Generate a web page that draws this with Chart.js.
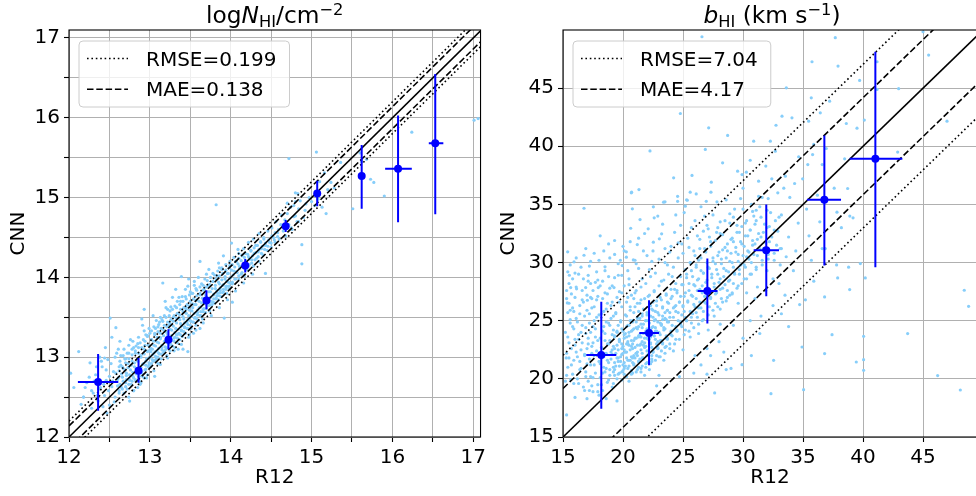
<!DOCTYPE html>
<html><head><meta charset="utf-8">
<script src="https://cdn.jsdelivr.net/npm/chart.js@4/dist/chart.umd.min.js"></script>
<style>
html,body{margin:0;padding:0;background:#fff;overflow:hidden;width:976px;height:496px;position:relative}
#w1{position:absolute;left:0;top:0;width:490px;height:496px}
#w2{position:absolute;left:490px;top:0;width:490px;height:496px}
canvas{display:block}
</style></head>
<body>
<div id="w1"><canvas id="c1" width="490" height="496"></canvas></div>
<div id="w2"><canvas id="c2" width="490" height="496"></canvas></div>
<script>
// ---------- DATA ----------
const nhiTitle = [['log','r'],['N','i'],['HI','sub'],['/cm','r'],['\u22122','sup']];
const bTitle = [['b','i'],['HI','sub'],[' (km s','r'],['\u22121','sup'],[')','r']];
const xLabel = 'R12';
const yLabel = 'CNN';

const nhiRMSE = 0.199, nhiMAE = 0.138;
const bRMSE = 7.04, bMAE = 4.17;

const nhiGridTicks = [12,12.5,13,13.5,14,14.5,15,15.5,16,16.5,17];
const nhiTickLabels = [12,13,14,15,16,17];
const bGridTicks = [15,20,25,30,35,40,45];
const bTickLabels = [15,20,25,30,35,40,45];

const nhiBinX  = [12.36,12.86,13.23,13.70,14.18,14.68,15.07,15.62,16.07,16.53];
const nhiBinY  = [12.69,12.83,13.22,13.71,14.15,14.64,15.05,15.27,15.36,15.68];
const nhiBinXLo= [12.11,12.82,13.19,13.66,14.14,14.64,15.03,15.58,15.91,16.45];
const nhiBinXHi= [12.61,12.90,13.27,13.74,14.22,14.72,15.11,15.66,16.24,16.63];
const nhiBinYLo= [12.33,12.68,13.10,13.60,14.06,14.57,14.89,14.86,14.69,14.79];
const nhiBinYHi= [13.04,12.99,13.35,13.84,14.23,14.72,15.21,15.66,16.03,16.55];

const bBinX  = [18.19,22.17,27.03,31.94,36.78,41.03];
const bBinY  = [22.06,23.95,27.56,31.06,35.40,38.92];
const bBinXLo= [16.94,21.36,26.22,30.89,35.33,38.89];
const bBinXHi= [19.44,23.00,27.88,33.00,38.17,43.28];
const bBinYLo= [17.44,21.16,24.75,27.10,29.74,29.60];
const bBinYHi= [26.64,26.76,30.34,35.00,40.93,48.13];

const nhiPoints = [
[12.02,12.80],[12.12,13.07],[12.06,12.62],[12.18,12.50],[12.22,12.68],[12.26,12.93],[12.15,12.41],[12.30,12.55],[12.33,12.78],[12.36,12.45],
[12.39,12.62],[12.41,12.88],[12.44,12.52],[12.46,12.71],[12.48,12.97],[12.50,12.40],[12.51,13.49],[12.53,12.63],[12.55,12.82],[12.57,12.50],
[12.58,13.37],[12.60,12.72],[12.62,12.58],[12.63,13.20],[12.64,12.90],[12.28,12.36],[12.42,12.38],[12.47,12.30],[12.56,12.44],[12.59,13.05],
[12.38,13.00],[12.45,13.12],[12.53,13.25],[12.61,13.10],[12.75,12.45],[12.79,13.20],[12.18,12.50],
[12.65,12.62],[12.66,12.75],[12.67,12.86],[12.68,12.55],[12.69,12.98],[12.70,12.68],[12.71,12.80],[12.72,12.60],[12.73,12.92],[12.74,13.15],
[12.75,12.72],[12.76,12.84],[12.77,12.66],[12.78,12.95],[12.80,12.74],[12.80,12.58],[12.81,12.88],[12.82,13.05],[12.83,12.70],[12.84,12.80],
[12.85,12.62],[12.85,12.95],[12.86,13.12],[12.87,12.76],[12.88,12.86],[12.89,12.68],[12.89,13.02],[12.90,12.80],[12.91,13.40],[12.92,12.92],
[12.93,13.33],[12.93,12.74],[12.94,13.15],[12.95,12.85],[12.96,12.98],[12.97,12.78],[12.98,13.08],[12.99,12.90],[12.93,13.60],[13.06,12.76],
[13.00,13.00],[13.01,12.88],[13.02,13.22],[13.03,13.10],[13.04,12.95],[13.05,13.05],[13.06,13.30],[13.07,13.14],[13.08,12.98],[13.09,13.08],
[13.10,13.38],[13.10,12.92],[13.11,13.18],[13.12,13.04],[13.13,13.25],[13.14,12.98],[13.15,13.12],[13.16,13.93],[13.16,13.45],[13.17,13.06],
[13.18,13.20],[13.19,13.32],[13.20,13.10],[13.21,13.02],[13.22,13.28],[13.23,13.16],[13.24,13.40],[13.25,13.08],[13.26,13.22],[13.27,13.34],
[13.28,13.14],[13.29,13.50],[13.30,13.24],[13.31,13.12],[13.32,13.36],[13.33,13.28],[13.34,13.18],[13.35,13.55],[13.36,13.30],[13.37,13.22],
[13.38,13.42],[13.39,13.34],[13.40,13.26],[13.41,13.10],[13.42,13.48],[13.43,13.38],[13.44,13.30],[13.45,13.62],[13.46,13.44],[13.47,13.07],
[13.47,13.36],[13.48,13.52],[13.49,13.28],[13.50,13.46],
[13.39,14.01],[13.47,13.89],[13.62,14.20],[13.73,14.10],[13.91,14.27],[14.01,14.43],[14.09,14.35],[13.55,13.95],[13.28,13.75],[13.20,13.62],
[13.34,13.70],[13.52,13.80],[13.60,14.00],[13.68,13.98],[13.44,13.85],
[13.51,13.36],[13.52,13.58],[13.53,13.44],[13.54,13.30],[13.55,13.66],[13.56,13.50],[13.57,13.40],[13.58,13.72],[13.59,13.56],[13.60,13.46],
[13.61,13.62],[13.62,13.78],[13.63,13.52],[13.64,13.68],[13.65,13.48],[13.66,13.60],[13.67,13.85],[13.68,13.70],[13.69,13.56],[13.70,13.76],
[13.71,13.64],[13.72,13.90],[13.73,13.72],[13.74,13.58],[13.75,13.82],[13.76,13.70],[13.77,13.66],[13.78,13.95],[13.79,13.78],[13.80,13.68],
[13.81,13.86],[13.82,13.74],[13.83,14.02],[13.84,13.80],[13.85,13.72],[13.86,13.92],[13.87,13.84],[13.88,13.76],[13.89,14.10],[13.90,13.90],
[13.91,13.82],[13.92,13.49],[13.93,13.98],[13.94,13.88],[13.95,13.80],[13.96,14.05],[13.97,13.94],[13.98,13.86],[13.99,14.15],[14.00,14.00],
[14.02,13.69],[14.02,13.92],[14.04,14.08],[14.05,13.98],[14.07,14.20],[14.08,14.06],[14.10,13.98],[14.11,14.14],[14.13,14.04],[14.14,14.28],
[14.16,14.12],[14.17,14.02],[14.19,14.20],[14.20,14.10],
[14.22,14.26],[14.23,14.16],[14.25,14.34],[14.26,14.22],[14.28,14.14],[14.29,14.30],[14.31,14.40],[14.32,14.24],[14.34,14.32],[14.35,14.20],
[14.37,14.45],[14.38,14.36],[14.40,14.28],[14.41,14.50],[14.43,14.05],[14.43,14.40],[14.45,14.34],[14.46,14.58],[14.48,14.44],[14.50,14.38],
[14.51,14.62],[14.53,14.50],[14.55,14.44],[14.56,14.70],[14.58,14.56],[14.60,14.48],[14.62,14.66],[14.63,14.78],[14.65,14.58],[14.67,14.72],
[14.68,14.52],[14.70,14.80],[14.72,14.66],[14.74,14.88],[14.76,14.60],[14.78,14.76],[14.80,14.95],[14.82,14.70],[14.84,14.86],[14.88,14.17],
[14.88,14.41],[14.72,15.49],
[14.80,15.06],[14.83,15.05],[14.70,14.93],[14.78,14.90],[14.86,14.96],[14.93,14.92],[15.00,14.95],[15.08,14.98],[15.13,14.88],[14.92,14.84],
[14.97,15.00],[15.04,14.90],[15.18,14.80],[15.16,15.31],[15.36,15.44],[15.51,14.86],[15.24,15.19],[14.80,14.77],[14.84,14.70],[14.75,14.62],
[14.90,14.75],[15.06,15.57],[15.20,15.10],[15.28,15.12],[15.73,15.23],[15.77,15.19],[15.68,15.48],[15.90,15.02],[16.24,15.82],[17.01,15.97],
[17.06,15.99],[13.82,14.91],[15.62,15.45],[15.60,15.56],[15.10,15.20],
[13.00,13.30],[13.05,13.38],[13.12,13.44],[13.18,13.52],[13.25,13.58],[13.31,13.64],[13.38,13.70],[13.44,13.76],[13.50,13.82],[13.57,13.86],
[12.95,13.28],[13.08,13.46],[13.22,13.60],[13.36,13.75],[12.80,13.12],[12.72,13.05],[12.68,13.10],[13.64,13.92],[13.78,14.05],[13.86,14.12]
];

const nhiPointsCore = [
[12.62,12.55],[12.63,12.66],[12.61,12.74],[12.62,12.83],[12.63,12.95],[12.66,12.60],[12.67,12.70],[12.65,12.79],[12.66,12.88],[12.67,13.02],
[12.70,12.63],[12.71,12.72],[12.69,12.84],[12.70,12.93],[12.71,12.77],[12.74,12.66],[12.75,12.78],[12.73,12.87],[12.74,12.98],[12.75,12.71],
[12.78,12.70],[12.79,12.81],[12.77,12.90],[12.78,13.03],[12.79,12.76],[12.82,12.72],[12.83,12.86],[12.81,12.93],[12.82,13.08],[12.83,12.79],
[12.86,12.76],[12.87,12.84],[12.85,12.97],[12.86,13.05],[12.87,12.70],[12.85,13.17],[12.90,12.82],[12.91,12.91],[12.89,13.00],[12.90,13.12],
[12.91,12.76],[12.89,12.87],[12.94,12.84],[12.95,12.95],[12.93,13.04],[12.94,13.20],[12.95,12.90],[12.93,13.10],[12.98,12.88],[12.99,12.99],
[12.97,13.07],[12.98,13.15],[12.99,12.93],[12.97,13.26],[13.02,12.92],[13.03,13.03],[13.01,13.11],[13.02,13.22],[13.03,12.97],[13.01,13.07],
[13.06,12.96],[13.07,13.07],[13.05,13.15],[13.06,13.28],[13.07,13.01],[13.05,13.20],[13.10,13.00],[13.11,13.11],[13.09,13.19],[13.10,13.32],
[13.11,13.05],[13.09,13.25],[13.14,13.04],[13.15,13.15],[13.13,13.23],[13.14,13.36],[13.15,13.09],[13.13,13.30],[13.18,13.08],[13.19,13.19],
[13.17,13.27],[13.18,13.40],[13.19,13.13],[13.17,13.34],[13.22,13.12],[13.23,13.23],[13.21,13.31],[13.22,13.44],[13.23,13.17],[13.21,13.38],
[13.26,13.16],[13.27,13.27],[13.25,13.35],[13.26,13.47],[13.27,13.21],[13.25,13.42],[13.30,13.20],[13.31,13.31],[13.29,13.39],[13.30,13.52],
[13.31,13.25],[13.29,13.45],[13.34,13.24],[13.35,13.35],[13.33,13.43],[13.34,13.55],[13.35,13.29],[13.33,13.49],[13.38,13.28],[13.39,13.39],
[13.37,13.47],[13.38,13.60],[13.39,13.33],[13.37,13.53],[13.42,13.32],[13.43,13.43],[13.41,13.51],[13.42,13.62],[13.43,13.37],[13.41,13.57],
[13.46,13.36],[13.47,13.47],[13.45,13.55],[13.46,13.66],[13.47,13.41],[13.45,13.60],[13.50,13.40],[13.51,13.51],[13.49,13.59],[13.50,13.70],
[13.51,13.45],[13.49,13.64],[13.54,13.44],[13.55,13.55],[13.53,13.62],[13.54,13.73],[13.55,13.49],[13.53,13.67],[13.58,13.48],[13.59,13.59],
[13.57,13.66],[13.58,13.77],[13.59,13.53],[13.57,13.71],[13.62,13.52],[13.63,13.63],[13.61,13.70],[13.62,13.80],[13.63,13.57],[13.66,13.57],
[13.67,13.67],[13.65,13.74],[13.66,13.84],[13.67,13.61],[13.70,13.61],[13.71,13.71],[13.69,13.78],[13.70,13.88],[13.71,13.65],[13.74,13.65],
[13.75,13.75],[13.73,13.82],[13.74,13.91],[13.75,13.69],[13.78,13.69],[13.79,13.79],[13.77,13.86],[13.78,13.95],[13.79,13.73],[13.82,13.73],
[13.83,13.83],[13.81,13.90],[13.82,13.98],[13.83,13.77],[13.86,13.77],[13.87,13.87],[13.85,13.94],[13.86,14.02],[13.87,13.81],[13.90,13.81],
[13.91,13.91],[13.89,13.97],[13.90,14.05],[13.91,13.85],[13.94,13.85],[13.95,13.95],[13.93,14.01],[13.94,14.09],[13.95,13.89],[13.98,13.89],
[13.99,13.99],[13.97,14.05],[13.98,14.12],[13.99,13.93],[14.02,13.94],[14.03,14.03],[14.01,14.09],[14.02,14.16],[14.06,13.98],[14.07,14.07],
[14.05,14.13],[14.06,14.20],[14.10,14.02],[14.11,14.11],[14.09,14.17],[14.10,14.24],[14.14,14.06],[14.15,14.15],[14.13,14.21],[14.14,14.27],
[14.18,14.10],[14.19,14.19],[14.17,14.25],[14.18,14.30],[14.22,14.14],[14.23,14.23],[14.21,14.29],[14.26,14.18],[14.27,14.27],[14.25,14.33],
[14.30,14.22],[14.31,14.31],[14.29,14.37],[14.34,14.26],[14.35,14.35],[14.33,14.40],[14.38,14.30],[14.39,14.39],[14.37,14.44],[14.42,14.35],
[14.43,14.43],[14.41,14.48],[14.46,14.39],[14.47,14.47],[14.50,14.43],[14.51,14.52],[14.54,14.47],[14.55,14.56],[14.58,14.51],[14.59,14.60]
];

const nhiPointsEdge = [
[12.70,12.98],[12.74,13.05],[12.78,13.10],[12.83,13.14],[12.88,13.18],[12.92,13.22],[12.97,13.27],[13.02,13.33],[13.07,13.36],[13.11,13.41],
[13.15,13.47],[13.20,13.50],[13.24,13.52],[13.28,13.60],[13.33,13.62],[13.37,13.66],[13.41,13.70],[13.45,13.73],[13.49,13.78],[13.53,13.80],
[13.58,13.84],[13.62,13.88],[13.66,13.90],[13.71,13.96],[13.75,14.00],[13.80,14.03],[13.84,14.08],[13.89,14.12],[13.94,14.16],[13.99,14.20],
[14.04,14.25],[14.10,14.30],[14.16,14.36],[14.22,14.44],[14.28,14.48],[14.35,14.55],[12.86,13.25],[12.99,13.36],[13.13,13.50],[13.26,13.63],
[13.40,13.76],[13.55,13.90],[13.70,14.04],[13.85,14.18],[12.76,13.22],[12.90,13.48],[13.04,13.52],[13.19,13.70],[13.48,13.98],[13.32,13.85],
[12.80,12.58],[12.88,12.66],[12.96,12.74],[13.05,12.83],[13.13,12.91],[13.22,12.99],[13.30,13.08],[13.39,13.16],[13.48,13.25],[13.57,13.34],
[13.66,13.43],[13.76,13.52],[13.86,13.62],[13.96,13.72],[14.06,13.83],[14.16,13.93],[14.27,14.04],[12.74,12.50],[13.35,13.10],[13.62,13.36],
[12.20,12.62],[12.25,12.75],[12.31,12.70],[12.34,12.88],[12.37,12.60],[12.40,12.95],[12.43,12.66],[12.46,12.84],[12.49,12.58],[12.52,12.92],
[12.54,12.70],[12.57,13.00],[12.60,12.64],[12.62,12.88],[12.64,13.02],[12.58,12.80],[12.50,12.76],[12.44,12.99],[12.35,12.52],[12.28,12.58]
];

const bPoints = [
[15.3,16.9],[15.2,19.8],[15.4,21.0],[15.3,22.2],[15.5,23.1],[15.2,24.0],[15.6,24.8],[15.4,25.7],[15.5,26.5],[15.3,27.6],
[15.53,28.91],[15.39,30.92],[15.8,20.4],[15.9,21.6],[15.7,22.6],[16.0,23.4],[15.9,24.3],[16.1,25.2],[15.8,26.1],[16.13,27.74],
[16.0,18.4],[16.3,19.6],[16.4,20.8],[16.2,21.9],[16.5,22.5],[16.3,23.8],[16.6,24.6],[16.4,25.6],[16.7,26.6],[16.89,27.85],
[16.75,30.63],[15.92,30.06],[15.64,27.85],[16.8,19.0],[16.9,20.2],[17.0,21.3],[16.8,22.1],[17.1,23.0],[16.9,23.9],[17.2,24.8],
[17.0,25.9],[17.3,27.0],[17.1,28.4],[17.0,18.3],[17.4,19.4],[16.75,34.67],[15.64,19.93],[15.36,26.53],[17.03,26.76],[15.27,21.8],
[17.2,19.0],[17.5,20.1],[17.3,21.2],[17.6,22.0],[17.4,22.8],[17.7,23.6],[17.5,24.5],[17.8,25.3],[17.6,26.2],[17.9,27.1],
[17.7,28.3],[17.94,27.85],[18.1,32.3],[18.0,18.6],[18.2,19.5],[18.3,20.5],[18.1,21.3],[18.4,21.9],[18.2,22.7],[18.5,23.3],
[18.3,24.1],[18.6,24.9],[18.4,25.8],[18.7,26.5],[18.5,27.4],[18.5,29.63],[18.8,19.9],[18.9,20.8],[18.7,21.6],[19.0,22.3],
[18.8,23.0],[19.1,23.8],[18.9,24.6],[19.2,25.4],[19.0,26.3],[19.25,27.85],[19.3,20.3],[19.5,18.1],[19.4,21.1],[19.6,21.8],
[19.3,22.6],[19.7,23.3],[19.5,24.1],[19.8,24.9],[19.4,25.7],[19.7,26.6],[19.61,28.91],[19.9,27.4],[19.78,30.2],[19.94,29.74],
[19.9,20.6],[19.8,21.5],[20.0,22.2],[19.9,23.0],[17.8,29.2],[18.3,28.4],[19.1,28.0],[17.4,26.9],[18.6,20.9],[19.2,19.6],
[17.9,18.9],[18.6,18.3],
[20.1,20.4],[20.2,21.1],[20.3,21.8],[20.1,22.5],[20.4,23.2],[20.2,23.9],[20.5,24.6],[20.3,25.4],[20.6,26.2],[20.4,27.0],
[20.5,28.1],[20.28,30.92],[20.28,30.46],[20.64,32.95],[20.72,36.05],[20.78,34.62],[20.86,30.23],[20.7,20.7],[20.8,21.4],[20.9,22.0],
[20.7,22.8],[21.0,23.5],[20.8,24.2],[21.1,24.9],[20.9,25.7],[21.2,26.5],[21.0,27.4],[21.19,31.55],[21.33,36.28],[21.42,33.7],
[21.3,21.0],[21.4,21.7],[21.2,22.3],[21.5,23.0],[21.3,23.7],[21.6,24.4],[21.4,25.2],[21.7,26.0],[21.5,26.8],[21.6,28.6],
[21.8,20.3],[21.9,21.3],[22.0,22.0],[21.8,22.7],[22.1,23.4],[21.9,24.1],[22.2,24.8],[22.0,25.5],[22.3,26.3],[22.1,27.1],
[22.2,29.4],[22.25,39.6],[22.53,31.75],[22.53,34.79],[22.6,33.85],[22.4,21.5],[22.5,22.3],[22.3,23.0],[22.6,23.7],[22.4,24.4],
[22.7,25.1],[22.5,25.9],[22.8,26.7],[22.6,27.6],[22.8,19.4],[23.0,21.9],[22.9,22.6],[23.1,23.3],[22.9,24.0],[23.2,24.7],
[23.0,25.5],[23.3,26.2],[23.1,27.0],[23.2,28.4],[23.03,32.04],[23.22,32.47],[23.38,35.19],[23.5,35.22],[23.5,22.7],[23.6,23.5],
[23.4,24.2],[23.7,24.9],[23.5,25.7],[23.8,26.5],[23.6,27.3],[23.7,29.8],[23.9,23.0],[24.0,23.8],[24.1,24.6],[23.9,25.3],
[24.2,26.1],[24.0,26.9],[24.3,27.7],[24.1,28.8],[24.22,37.29],[24.4,23.4],[24.5,24.2],[24.6,25.0],[24.4,25.8],[24.7,26.6],
[24.5,27.4],[24.6,30.4],[24.55,35.7],[24.55,35.27],[24.78,42.82],[24.8,24.7],[24.9,25.5],[25.0,26.3],[24.8,27.1],[25.0,28.1],
[24.9,31.6],[20.4,29.3],[21.1,29.9],[22.0,30.6],[23.5,31.2],[24.3,32.6],[21.8,32.5],[22.9,34.0],[20.9,26.9],[21.5,20.6],
[22.2,20.8],[23.4,21.6],[24.2,22.4],[20.5,19.8],[23.0,20.3],
[20.6,21.6],[21.1,22.2],[21.7,22.9],[22.3,23.6],[20.8,23.0],[21.4,23.8],[22.0,24.3],[22.6,25.0],[21.2,24.3],[21.9,25.0],
[22.4,22.0],[20.5,22.9],[21.6,21.8],[22.7,24.1],[23.3,25.1],[21.0,21.8],[20.3,23.6],[22.9,23.2],[21.8,23.5],[22.5,26.6],
[20.6,25.0],[21.3,25.8],[23.7,25.9],[24.4,26.3],
[25.2,24.2],[25.3,25.0],[25.1,25.8],[25.4,26.6],[25.2,27.4],[25.5,28.2],[25.3,29.0],[25.6,30.0],[25.19,34.85],[25.36,35.36],
[25.6,36.05],[25.75,37.49],[25.7,24.8],[25.8,25.6],[25.9,26.4],[25.7,27.2],[26.0,28.0],[25.8,28.8],[26.1,29.6],[25.9,31.0],
[26.1,35.9],[26.2,25.3],[26.3,26.1],[26.1,26.9],[26.4,27.7],[26.2,28.5],[26.5,29.3],[26.3,30.2],[26.4,32.0],[26.58,49.42],
[26.86,39.73],[26.94,35.27],[26.6,25.0],[26.7,25.8],[26.8,26.6],[26.6,27.4],[26.9,28.3],[26.7,29.1],[27.0,30.0],[26.8,31.2],
[27.14,41.59],[27.33,36.05],[27.36,36.91],[27.1,24.2],[27.2,26.2],[27.3,27.0],[27.1,27.8],[27.4,28.7],[27.2,29.5],[27.5,30.4],
[27.3,31.8],[27.64,18.79],[27.83,35.22],[27.6,25.4],[27.7,26.5],[27.8,27.4],[27.6,28.2],[27.9,29.0],[27.7,29.9],[28.0,30.9],
[27.9,33.0],[28.1,26.0],[28.2,26.9],[28.3,27.8],[28.1,28.6],[28.4,29.5],[28.2,30.3],[28.5,31.3],[28.3,32.4],[28.3,38.58],
[28.72,40.93],[28.6,20.8],[28.6,26.7],[28.7,27.6],[28.8,28.4],[28.6,29.3],[28.9,30.1],[28.7,31.0],[29.0,32.0],[28.9,34.2],
[29.0,20.9],[29.1,27.3],[29.2,28.2],[29.3,29.1],[29.1,30.0],[29.4,30.9],[29.2,31.8],[29.5,33.2],[29.55,37.86],[29.92,37.57],
[29.6,28.0],[29.7,29.0],[29.8,29.8],[29.6,30.7],[29.9,31.6],[29.7,32.6],[29.92,21.22],[29.8,35.5],[25.6,23.6],[26.3,23.9],
[27.0,22.6],[25.0,22.5],[26.0,22.0],[28.1,24.7],
[30.1,28.6],[30.2,29.6],[30.3,30.5],[30.1,31.4],[30.4,32.3],[30.2,33.4],[30.28,37.77],[30.89,40.44],[30.0,36.4],[30.6,29.0],
[30.7,30.0],[30.5,30.9],[30.8,31.9],[30.6,32.8],[30.9,34.0],[30.7,35.0],[31.1,29.6],[31.2,30.6],[31.0,31.6],[31.3,32.5],
[31.1,33.6],[31.4,34.8],[31.2,27.9],[31.6,30.2],[31.7,31.2],[31.5,32.2],[31.8,33.3],[31.6,35.6],[32.0,29.3],[32.1,30.7],
[32.2,31.8],[32.0,33.0],[32.3,34.3],[32.28,40.44],[32.69,39.58],[32.75,41.81],[32.33,18.73],[32.55,21.59],[32.5,28.6],[32.6,30.2],
[32.8,31.5],[32.6,32.8],[32.9,36.0],[33.0,28.2],[33.1,29.8],[33.2,31.2],[33.0,33.9],[33.25,42.59],[33.61,45.03],[33.6,30.5],
[33.5,27.2],[33.8,32.2],[33.9,35.6],[34.08,42.45],[34.2,29.3],[34.4,31.0],[34.6,33.4],[34.72,26.39],[34.92,22.74],[35.05,19.07],
[34.64,39.1],[34.97,37.2],[33.53,37.43],[33.4,36.4],[34.3,36.8],[32.4,37.2],[31.9,38.3],[31.3,37.0],[30.6,38.8],
[35.4,38.43],[35.47,42.16],[35.69,44.17],[35.75,47.27],[35.8,39.29],[35.89,40.16],[35.3,34.6],[35.5,32.3],[35.7,30.2],[35.9,28.4],
[35.2,26.8],[36.44,42.88],[36.6,38.43],[36.2,35.8],[36.4,33.5],[36.6,31.2],[36.8,27.05],[36.8,22.17],[36.86,31.2],[36.94,39.81],
[37.22,43.88],[37.42,23.8],[37.69,49.34],[37.92,46.9],[37.83,34.33],[37.89,28.68],[37.6,36.4],[37.8,29.8],[38.47,38.92],[38.61,41.96],
[38.72,36.37],[38.8,29.6],[38.89,27.68],[38.2,33.0],[38.9,34.0],[39.17,33.85],[39.44,21.45],[39.5,41.56],[39.72,45.66],[39.78,29.91],
[40.05,21.65],[40.05,20.73],[40.05,23.66],[40.11,42.25],[40.19,28.68],[41.17,47.27],[41.17,44.89],[42.89,39.5],[42.97,44.95],[43.72,23.89],
[45.0,49.85],[45.47,47.84],[46.22,20.28],[47.0,42.16],[48.11,19.04],[48.44,27.62],[48.8,26.24],
[24.0,31.4],[24.8,33.2],[25.4,32.1],[26.0,33.6],[26.7,32.7],[27.5,34.1],[28.1,33.5],[28.6,35.4],[29.3,34.6],[25.1,34.3],
[26.5,34.8],[27.0,33.2],[23.0,30.3],[22.5,31.0],[21.0,30.2],[20.0,31.4],[19.3,30.7],[18.8,31.6],[17.3,30.1],[16.3,29.0],
[15.6,29.8],[20.69,36.0],[25.3,35.4],
[28.9,27.2],[29.6,26.5],[30.3,27.4],[31.0,26.9],[31.9,27.6],[31.5,25.4],[30.6,25.0],[29.2,24.6],[32.5,26.3],[33.2,25.6],
[30.0,23.5],[28.0,23.2],[27.3,22.0],[26.5,21.2],[31.4,23.9],[33.8,24.5],[28.4,22.3],[25.9,20.5],[27.0,20.4],[24.7,20.2],[30.7,22.0],
[15.4,29.2],[15.8,28.6],[16.1,30.4],[16.5,29.6],[16.9,31.2],[17.2,29.7],[17.6,30.8],[18.0,30.2],[18.4,31.0],[18.9,30.4],
[19.3,31.9],[19.6,29.9],[20.1,31.0],[20.6,31.8],[21.3,32.1],[21.7,31.0],[22.1,32.9],[15.6,25.9],[16.0,27.0],[16.6,27.6],
[17.3,28.2],[18.8,28.8],[19.9,28.9],[22.4,30.1],[23.9,30.9],[24.6,31.7],[25.5,31.3],[26.2,32.3],[27.1,32.9],[27.8,32.6],
[28.5,33.6],[29.2,33.9],[30.0,34.6],[30.8,34.4],[31.3,35.7],[32.1,35.5],[23.3,33.3],[24.4,34.1],[25.7,33.0],[26.8,34.0]
];

const bPointsCore = [
[15.3,20.3],[15.5,21.8],[15.4,23.6],[15.6,25.1],[15.3,26.9],[15.5,28.2],[15.9,19.6],[15.7,21.2],[16.0,22.9],[15.8,24.5],
[15.9,25.8],[15.7,27.3],[16.0,29.1],[16.2,20.0],[16.4,21.5],[16.1,22.3],[16.3,23.4],[16.2,24.9],[16.4,26.3],[16.1,27.9],
[16.7,19.3],[16.5,20.9],[16.8,22.0],[16.6,23.1],[16.5,24.0],[16.8,25.4],[16.6,26.8],[16.7,28.6],[17.1,19.8],[16.9,20.6],
[17.2,21.7],[17.0,22.6],[17.1,23.5],[16.9,24.4],[17.2,25.6],[17.0,27.2],[17.1,28.9],[17.5,18.9],[17.3,20.2],[17.6,21.2],
[17.4,22.2],[17.5,23.1],[17.3,24.0],[17.6,25.0],[17.4,26.1],[17.5,27.6],[17.9,19.5],[17.7,20.5],[18.0,21.5],[17.8,22.4],
[17.9,23.3],[17.7,24.3],[18.0,25.5],[17.8,26.8],[17.9,28.5],[18.3,19.0],[18.1,20.1],[18.4,21.0],[18.2,21.8],[18.3,22.6],
[18.1,23.5],[18.4,24.5],[18.2,25.6],[18.3,26.9],[18.1,28.0],[18.7,19.7],[18.5,20.6],[18.8,21.4],[18.6,22.2],[18.7,23.0],
[18.5,23.9],[18.8,24.8],[18.6,26.0],[18.7,27.3],[18.5,29.3],[19.1,19.3],[18.9,20.3],[19.2,21.0],[19.0,21.7],[19.1,22.5],
[18.9,23.3],[19.2,24.2],[19.0,25.2],[19.1,26.6],[18.9,27.8],[19.5,20.0],[19.3,20.8],[19.6,21.5],[19.4,22.2],[19.5,22.9],
[19.3,23.7],[19.6,24.6],[19.4,25.6],[19.5,27.0],[19.3,28.7],[19.9,19.9],[19.7,20.5],[20.0,21.2],[19.8,21.9],[19.9,22.6],
[19.7,23.4],[20.0,24.1],[19.8,25.0],[19.9,26.2],[19.7,27.5],[20.3,20.2],[20.1,20.9],[20.4,21.6],[20.2,22.3],[20.3,23.0],
[20.1,23.8],[20.4,24.6],[20.2,25.5],[20.3,26.6],[20.1,28.0],[20.7,20.4],[20.5,21.1],[20.8,21.8],[20.6,22.5],[20.7,23.3],
[20.5,24.0],[20.8,24.9],[20.6,25.9],[20.7,27.2],[20.5,28.6],[21.1,20.6],[20.9,21.3],[21.2,22.0],[21.0,22.7],[21.1,23.5],
[20.9,24.3],[21.2,25.2],[21.0,26.2],[21.1,27.6],[21.5,20.9],[21.3,21.5],[21.6,22.2],[21.4,22.9],[21.5,23.6],[21.3,24.5],
[21.6,25.4],[21.4,26.5],[21.5,27.9],[21.3,29.5],[21.9,21.0],[21.7,21.7],[22.0,22.4],[21.8,23.1],[21.9,23.9],[21.7,24.7],
[22.0,25.7],[21.8,26.9],[21.9,28.2],[22.3,21.3],[22.1,22.0],[22.4,22.7],[22.2,23.4],[22.3,24.2],[22.1,25.0],[22.4,26.0],
[22.2,27.2],[22.3,28.8],[22.7,21.6],[22.5,22.3],[22.8,23.0],[22.6,23.7],[22.7,24.4],[22.5,25.3],[22.8,26.3],[22.6,27.5],
[22.7,29.1],[23.1,21.9],[22.9,22.6],[23.2,23.3],[23.0,24.0],[23.1,24.8],[22.9,25.7],[23.2,26.8],[23.0,28.0],[23.5,22.2],
[23.3,23.0],[23.6,23.7],[23.4,24.4],[23.5,25.2],[23.3,26.1],[23.6,27.2],[23.4,28.5],[23.5,30.0],[23.9,22.6],[23.7,23.4],
[24.0,24.1],[23.8,24.9],[23.9,25.7],[23.7,26.6],[24.0,27.7],[23.8,29.0],[24.3,23.0],[24.1,23.7],[24.4,24.5],[24.2,25.3],
[24.3,26.2],[24.1,27.1],[24.4,28.2],[24.2,29.6],[24.7,23.4],[24.5,24.1],[24.8,24.9],[24.6,25.7],[24.7,26.6],[24.5,27.6],
[24.8,28.8],[25.1,23.8],[24.9,24.5],[25.2,25.3],[25.0,26.2],[25.1,27.1],[24.9,28.1],[25.2,29.4],[25.0,30.8],[25.5,24.1],
[25.3,25.0],[25.6,25.8],[25.4,26.7],[25.5,27.6],[25.3,28.7],[25.6,30.0],[25.9,24.4],[25.7,25.3],[26.0,26.2],[25.8,27.1],
[25.9,28.1],[25.7,29.3],[26.0,30.6],[26.3,24.7],[26.1,25.7],[26.4,26.6],[26.2,27.6],[26.3,28.6],[26.1,29.8],[26.4,31.2],
[26.7,25.1],[26.5,26.1],[26.8,27.1],[26.6,28.0],[26.7,29.1],[26.5,30.4],[27.1,25.5],[26.9,26.5],[27.2,27.5],[27.0,28.5],
[27.1,29.6],[26.9,30.9],[27.2,32.2],[27.5,25.9],[27.3,26.9],[27.6,27.9],[27.4,29.0],[27.5,30.1],[27.3,31.4],[27.9,26.2],
[27.7,27.3],[28.0,28.3],[27.8,29.4],[27.9,30.6],[27.7,31.9],[28.3,26.6],[28.1,27.7],[28.4,28.8],[28.2,29.9],[28.3,31.1],
[28.1,32.5],[28.7,27.0],[28.5,28.1],[28.8,29.2],[28.6,30.4],[28.7,31.6],[29.1,27.4],[28.9,28.5],[29.2,29.6],[29.0,30.8],
[29.1,32.1],[28.9,33.4],[29.5,27.8],[29.3,29.0],[29.6,30.1],[29.4,31.3],[29.5,32.6],[29.9,28.2],[29.7,29.4],[30.0,30.6],
[29.8,31.8],[29.9,33.1],[30.3,28.6],[30.1,29.8],[30.4,31.0],[30.2,32.3],[30.3,33.6],[30.7,29.0],[30.5,30.3],[30.8,31.5],
[30.6,32.8],[31.1,29.4],[30.9,30.7],[31.2,32.0],[31.0,33.3],[31.1,34.5],[31.6,29.8],[31.4,31.2],[31.7,32.6],[31.5,33.9],
[32.1,30.3],[31.9,31.7],[32.2,33.1],[32.0,34.5],[32.6,30.8],[32.4,32.2],[32.7,33.6],[33.1,31.2],[32.9,32.7],[33.2,34.1],
[19.2,20.6],[19.3,21.4],[19.1,22.1],[19.2,22.8],[19.3,23.6],[19.6,20.4],[19.7,21.1],[19.5,21.8],[19.6,22.5],[19.7,23.2],
[19.5,24.0],[20.0,20.7],[20.1,21.4],[19.9,22.1],[20.0,22.8],[20.1,23.5],[19.9,24.3],[20.4,20.9],[20.5,21.6],[20.3,22.3],
[20.4,23.0],[20.5,23.7],[20.3,24.5],[20.8,20.5],[20.9,21.2],[20.7,21.9],[20.8,22.6],[20.9,23.3],[20.7,24.1],[20.8,25.0],
[21.2,20.8],[21.3,21.5],[21.1,22.2],[21.2,22.9],[21.3,23.6],[21.1,24.4],[21.2,25.3],[21.6,21.1],[21.7,21.8],[21.5,22.5],
[21.6,23.2],[21.7,23.9],[21.5,24.7],[21.6,25.6],[22.0,21.4],[22.1,22.1],[21.9,22.8],[22.0,23.5],[22.1,24.2],[21.9,25.0],
[22.4,21.7],[22.5,22.4],[22.3,23.1],[22.4,23.8],[22.5,24.5],[22.3,25.4],[22.8,22.0],[22.9,22.7],[22.7,23.4],[22.8,24.1],
[22.9,24.9],[22.7,25.8],[23.2,22.4],[23.3,23.1],[23.1,23.8],[23.2,24.6],[23.3,25.4],[23.6,22.8],[23.7,23.5],[23.5,24.3],
[23.6,25.1],[23.7,25.9]
];

// ---------- HELPERS ----------
const FONT = '"DejaVu Sans", "Liberation Sans", sans-serif';
const FS = 20;
Chart.defaults.font.family = FONT;
Chart.defaults.font.size = FS;
Chart.defaults.color = '#000';

const errorBarPlugin = {
  id: 'errorBars',
  beforeDatasetDraw(chart, args) {
    const ds = chart.data.datasets[args.index];
    if (!ds.errorBars) return;
    const {ctx, chartArea: a, scales: {x, y}} = chart;
    const e = ds.errorBars;
    ctx.save();
    ctx.beginPath(); ctx.rect(a.left, a.top, a.right - a.left, a.bottom - a.top); ctx.clip();
    ctx.strokeStyle = ds.backgroundColor; ctx.lineWidth = 2;
    ds.data.forEach((p, i) => {
      const px = x.getPixelForValue(p.x), py = y.getPixelForValue(p.y);
      ctx.beginPath();
      ctx.moveTo(x.getPixelForValue(e.xLo[i]), py); ctx.lineTo(x.getPixelForValue(e.xHi[i]), py);
      ctx.moveTo(px, y.getPixelForValue(e.yLo[i])); ctx.lineTo(px, y.getPixelForValue(e.yHi[i]));
      ctx.stroke();
    });
    ctx.restore();
  }
};

const framePlugin = {
  id: 'frame',
  afterDatasetsDraw(chart) {
    const {ctx, chartArea: a} = chart;
    ctx.save(); ctx.strokeStyle = '#000'; ctx.lineWidth = 1.1;
    ctx.strokeRect(a.left, a.top, a.right - a.left, a.bottom - a.top);
    ctx.restore();
  }
};

const richTitlePlugin = {
  id: 'richTitle',
  afterDraw(chart, args, opts) {
    const {ctx, chartArea: a} = chart;
    const big = 23.3, small = 16.3;
    const parts = opts.parts.map(([t, k]) => {
      let font, dy = 0;
      if (k === 'r') font = big + 'px ' + FONT;
      else if (k === 'i') font = 'italic ' + big + 'px ' + FONT;
      else if (k === 'sub') { font = small + 'px ' + FONT; dy = 4; }
      else { font = small + 'px ' + FONT; dy = -8; }
      return {t, font, dy};
    });
    ctx.save(); ctx.fillStyle = '#000'; ctx.textBaseline = 'alphabetic'; ctx.textAlign = 'left';
    let total = 0;
    parts.forEach(p => { ctx.font = p.font; p.w = ctx.measureText(p.t).width; total += p.w; });
    let x = (a.left + a.right) / 2 + (opts.shift || 0) - total / 2;
    const base = 23.3;
    parts.forEach(p => { ctx.font = p.font; ctx.fillText(p.t, x, base + p.dy); x += p.w; });
    ctx.restore();
  }
};

const legendPlugin = {
  id: 'boxLegend',
  afterDraw(chart, args, opts) {
    const {ctx, chartArea: a} = chart;
    ctx.save();
    ctx.font = FS + 'px ' + FONT;
    let tw = 0; opts.entries.forEach(e => tw = Math.max(tw, ctx.measureText(e.label).width));
    const bx = a.left + 10, by = a.top + 11, bw = 67 + tw + 13, bh = 66;
    const r = 4;
    ctx.beginPath();
    ctx.moveTo(bx + r, by); ctx.lineTo(bx + bw - r, by); ctx.arcTo(bx + bw, by, bx + bw, by + r, r);
    ctx.lineTo(bx + bw, by + bh - r); ctx.arcTo(bx + bw, by + bh, bx + bw - r, by + bh, r);
    ctx.lineTo(bx + r, by + bh); ctx.arcTo(bx, by + bh, bx, by + bh - r, r);
    ctx.lineTo(bx, by + r); ctx.arcTo(bx, by, bx + r, by, r); ctx.closePath();
    ctx.fillStyle = 'rgba(255,255,255,0.8)'; ctx.fill();
    ctx.strokeStyle = '#cccccc'; ctx.lineWidth = 1; ctx.stroke();
    opts.entries.forEach((e, i) => {
      const ly = by + 17.5 + i * 30.8;
      ctx.beginPath(); ctx.setLineDash(e.dash); ctx.strokeStyle = '#000'; ctx.lineWidth = 1.6;
      ctx.moveTo(bx + 8, ly); ctx.lineTo(bx + 49, ly); ctx.stroke();
      ctx.setLineDash([]);
      ctx.fillStyle = '#000'; ctx.textBaseline = 'alphabetic';
      ctx.fillText(e.label, bx + 67, ly + 7);
    });
    ctx.restore();
  }
};

const DASH = [6.5, 2.8], DOT = [1.6, 2.8];

function refLines(xmin, xmax, mae, rmse) {
  const offs = [[0, []], [mae, DASH], [-mae, DASH], [rmse, DOT], [-rmse, DOT]];
  return offs.map(([c, dash]) => ({
    type: 'line', data: [{x: xmin, y: xmin + c}, {x: xmax, y: xmax + c}],
    borderColor: '#000', borderWidth: 1.6, borderDash: dash, pointRadius: 0, fill: false, order: 1
  }));
}

function makeChart(id, cfg) {
  const gTicks = cfg.gridTicks, labels = cfg.tickLabels;
  const axis = (isX) => ({
    type: 'linear',
    min: cfg.min, max: isX ? cfg.xmax : cfg.ymax,
    afterBuildTicks: s => { s.ticks = gTicks.map(v => ({value: v})); },
    afterFit: s => { if (isX) s.height = 59; else s.width = cfg.yAxisW; },
    ticks: {
      autoSkip: false, maxRotation: 0, padding: 4, color: '#000',
      font: {size: FS, family: FONT},
      callback: v => labels.includes(v) ? String(v) : ''
    },
    grid: {color: '#b0b0b0', lineWidth: 1, drawTicks: true, tickLength: 5, tickColor: '#000', tickWidth: 1.1},
    border: {display: false},
    title: {display: true, text: isX ? xLabel : yLabel, color: '#000',
      font: {size: FS, family: FONT}, padding: isX ? {top: 0, bottom: 6.3} : {top: 6.8, bottom: 0}}
  });
  const pts = cfg.points.map(p => ({x: p[0], y: p[1]}));
  return new Chart(document.getElementById(id), {
    data: {datasets: [
      {type: 'scatter', data: cfg.binX.map((v, i) => ({x: v, y: cfg.binY[i]})),
       backgroundColor: '#0000ff', borderWidth: 0, pointRadius: 4, order: 0,
       errorBars: {xLo: cfg.xLo, xHi: cfg.xHi, yLo: cfg.yLo, yHi: cfg.yHi}},
      ...refLines(cfg.min, cfg.xmax, cfg.mae, cfg.rmse),
      {type: 'scatter', data: pts,
       backgroundColor: '#87cefa', borderWidth: 0, pointRadius: 1.6, order: 2}
    ]},
    options: {
      responsive: false, animation: false, events: [], devicePixelRatio: 1,
      layout: {autoPadding: false, padding: {top: 30, left: 0, right: cfg.padRight, bottom: 0}},
      scales: {x: {...axis(true), position: 'bottom'}, y: {...axis(false), position: 'left'}},
      plugins: {
        legend: {display: false}, tooltip: {enabled: false},
        richTitle: {parts: cfg.title, shift: cfg.titleShift || 0},
        boxLegend: {entries: [{label: 'RMSE=' + cfg.rmse, dash: DOT}, {label: 'MAE=' + cfg.mae, dash: DASH}]}
      }
    },
    plugins: [errorBarPlugin, framePlugin, richTitlePlugin, legendPlugin]
  });
}

makeChart('c1', {
  min: 12, xmax: 17.09, ymax: 17.1, yAxisW: 69, padRight: 1,
  gridTicks: nhiGridTicks, tickLabels: nhiTickLabels,
  binX: nhiBinX, binY: nhiBinY, xLo: nhiBinXLo, xHi: nhiBinXHi, yLo: nhiBinYLo, yHi: nhiBinYHi,
  points: nhiPoints.concat(nhiPointsCore, nhiPointsEdge), mae: nhiMAE, rmse: nhiRMSE, title: nhiTitle
});
makeChart('c2', {
  min: 15, xmax: 49.5, ymax: 50, yAxisW: 73, padRight: 3,
  gridTicks: bGridTicks, tickLabels: bTickLabels,
  binX: bBinX, binY: bBinY, xLo: bBinXLo, xHi: bBinXHi, yLo: bBinYLo, yHi: bBinYHi,
  points: bPoints.concat(bPointsCore), mae: bMAE, rmse: bRMSE, title: bTitle, titleShift: 2
});
</script>
</body></html>
